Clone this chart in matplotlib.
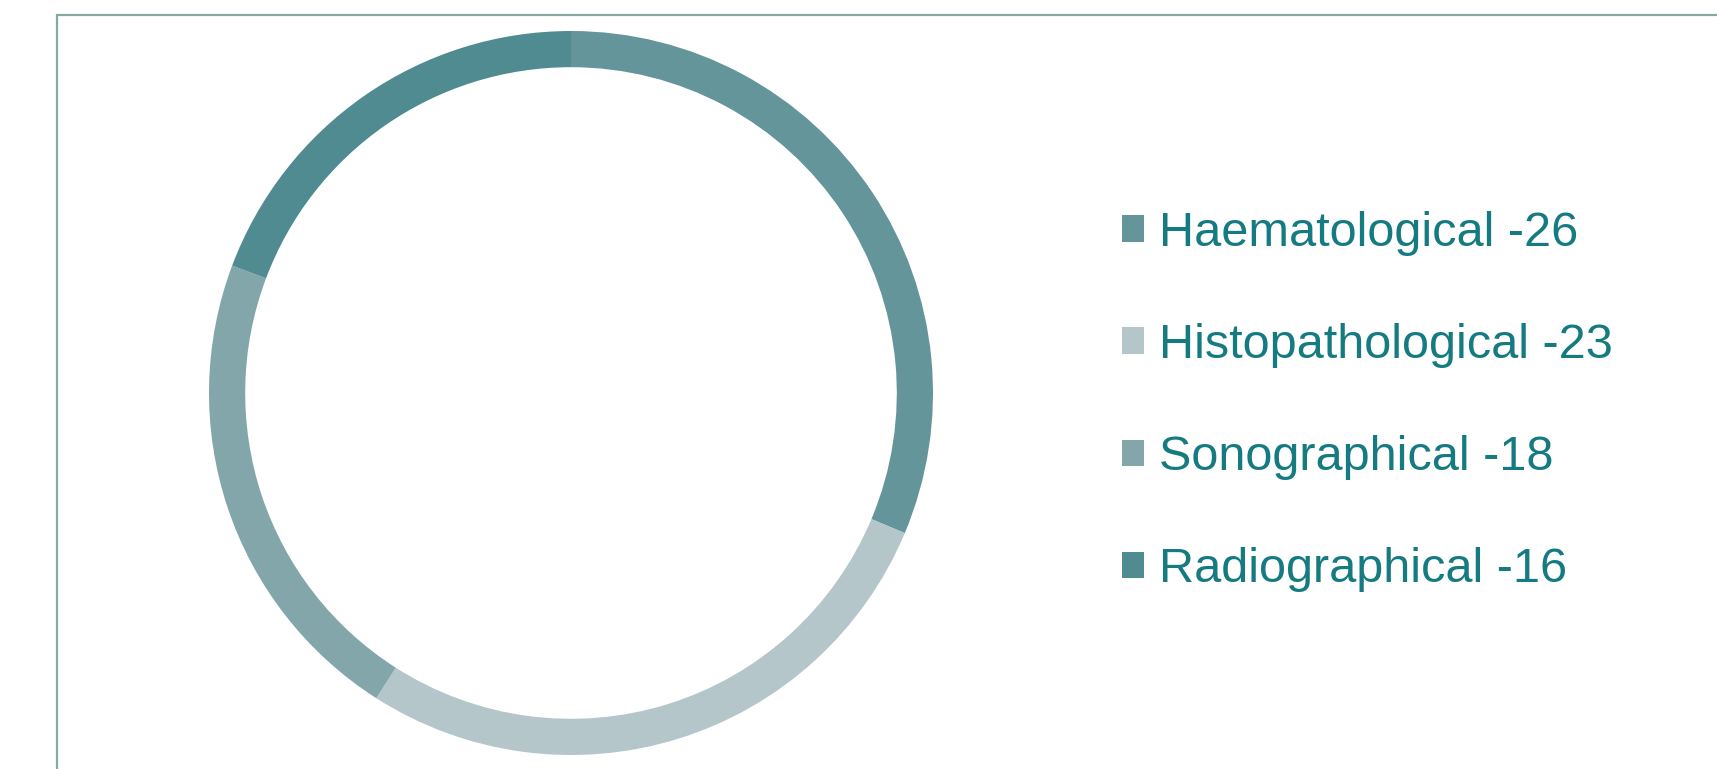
import matplotlib.pyplot as plt
from matplotlib.patches import Rectangle

plt.rcParams['font.family'] = ['Liberation Sans', 'DejaVu Sans']

labels = ['Haematological -26', 'Histopathological -23', 'Sonographical -18', 'Radiographical -16']
values = [26, 23, 18, 16]
colors = ['#63959a', '#b4c6ca', '#82a6aa', '#4f8b91']
text_color = '#157b81'

W, H = 1717, 769
fig = plt.figure(figsize=(W / 100, H / 100), dpi=100)

# frame, cut off at the right and bottom edges
fig.add_artist(Rectangle((57 / W, -0.1), 1.2, 1 - 15 / H + 0.1, transform=fig.transFigure,
                         fill=False, edgecolor='#84aba3', linewidth=1.6))

cx, cy, r = 571, 393, 362
ax = fig.add_axes([(cx - r) / W, (H - cy - r) / H, 2 * r / W, 2 * r / H])
wedges, _ = ax.pie(values, colors=colors, startangle=90, counterclock=False, radius=1,
                   wedgeprops=dict(width=0.1, linewidth=0))
ax.set_xlim(-1, 1)
ax.set_ylim(-1, 1)
ax.set_aspect('equal')
ax.axis('off')

leg = fig.legend(wedges, labels, loc='center left', bbox_to_anchor=(1122 / W, 0.478),
                 frameon=False, fontsize=35, handlelength=0.45, handleheight=0.45,
                 handletextpad=0.32, labelspacing=1.38, borderpad=0, borderaxespad=0)
for t in leg.get_texts():
    t.set_color(text_color)

fig.savefig('out.png', dpi=100)
